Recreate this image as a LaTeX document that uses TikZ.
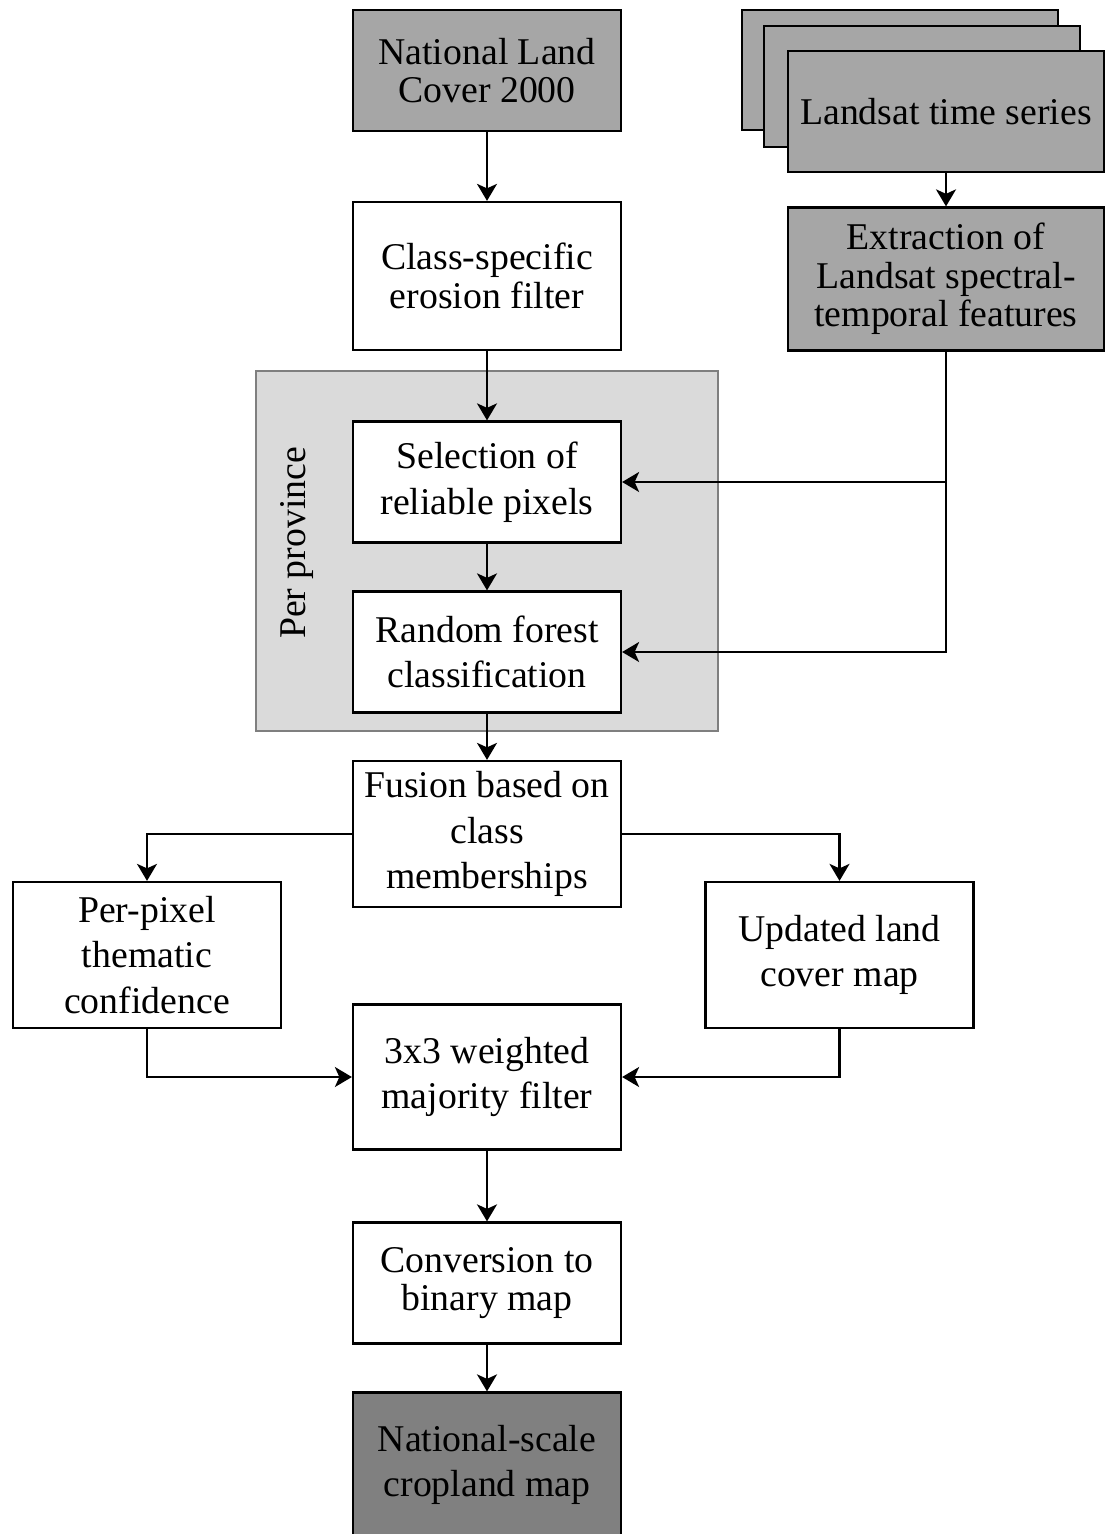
\documentclass[tikz,border=0pt]{standalone}
\usepackage{fontspec}
\setmainfont{Liberation Serif}
\usetikzlibrary{arrows.meta}

\definecolor{boxgray}{HTML}{A6A6A6}
\definecolor{darkgray}{HTML}{808080}
\definecolor{areagray}{HTML}{DADADA}
\definecolor{arealine}{HTML}{7F7F7F}

\begin{document}
\begin{tikzpicture}[x=0.02cm,y=-0.02cm,
    stepbox/.style={draw=black,line width=1.3pt,fill=white,align=center,
      minimum width=5.36cm,inner sep=2pt,
      font=\fontsize{21.5}{26}\selectfont},
    tight/.style={font=\fontsize{21.5}{22}\selectfont},
    graybox/.style={stepbox,fill=boxgray},
    arr/.style={-{Stealth[length=0.34cm,width=0.4cm,inset=0.09cm]},line width=1.3pt}]

      \useasboundingbox (0,0) rectangle (1112,1534);

      % per province area
      \filldraw[fill=areagray,draw=arealine,line width=1.3pt] (256,371) rectangle (718,731);
      \node[rotate=90,font=\fontsize{21.5}{26}\selectfont] (prov) at (297,543){Per province};

      \node[graybox,tight,minimum height=2.42cm] (nlc) at (487,70.5){National Land\\Cover 2000};
      \node[stepbox,tight,minimum height=2.96cm] (erosion) at (487,276){Class-specific\\erosion filter};

      % landsat stack
      \node[graybox,minimum width=6.32cm,minimum height=2.4cm] (ls3) at (900,70){};
      \node[graybox,minimum width=6.32cm,minimum height=2.42cm] (ls2) at (922,86.5){};
      \node[graybox,minimum width=6.32cm,minimum height=2.42cm] (ls1) at (946,111.5){Landsat time series};
      \node[graybox,tight,minimum width=6.32cm,minimum height=2.86cm] (extract) at (946,279){Extraction of\\Landsat spectral-\\temporal features};

      \node[stepbox,minimum height=2.42cm] (select) at (487,482){Selection of\\reliable pixels};
      \node[stepbox,minimum height=2.42cm] (rf) at (487,652){Random forest\\classification};
      \node[stepbox,minimum height=2.92cm] (fusion) at (487,834){Fusion based on\\class\\memberships};
      \node[stepbox,minimum height=2.92cm] (conf) at (147,955){Per-pixel\\thematic\\confidence};
      \node[stepbox,minimum height=2.92cm] (update) at (839.5,955){Updated land\\cover map};
      \node[stepbox,minimum height=2.9cm] (major) at (487,1077){3x3 weighted\\majority filter};
      \node[stepbox,tight,minimum height=2.42cm] (binary) at (487,1283){Conversion to\\binary map};
      \node[stepbox,fill=darkgray,minimum height=2.9cm] (crop) at (487,1465){National-scale\\cropland map};

      \draw[arr] (nlc) -- (erosion);
      \draw[arr] (ls1) -- (extract);
      \draw[arr] (erosion) -- (select);
      \draw[arr] (select) -- (rf);
      \draw[arr] (extract.south |- select.east) -- (select.east);
      \draw[arr] (extract.south) |- (rf.east);
      \draw[arr] (rf) -- (fusion);
      \draw[arr] (fusion.west) -| (conf.north);
      \draw[arr] (fusion.east) -| (update.north);
      \draw[arr] (conf.south) |- (major.west);
      \draw[arr] (update.south) |- (major.east);
      \draw[arr] (major) -- (binary);
      \draw[arr] (binary) -- (crop);
    \end{tikzpicture}
\end{document}
